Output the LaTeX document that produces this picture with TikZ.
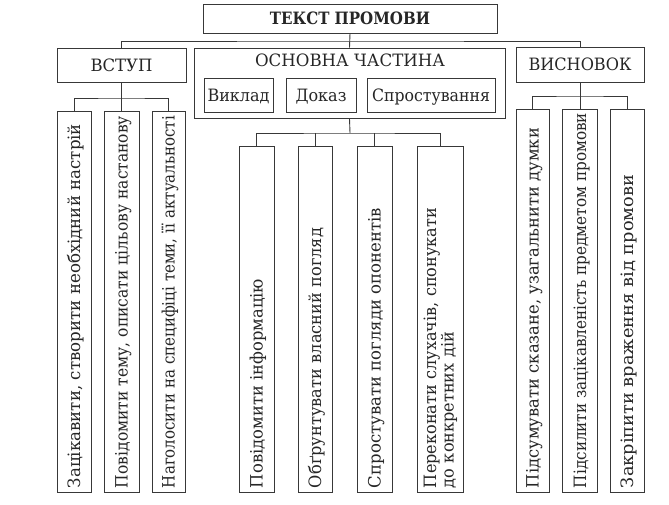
\documentclass[tikz,border=0pt]{standalone}
\usepackage{fontspec}
\setmainfont{DejaVu Serif}
\usepackage{graphicx}
\newcommand{\fitw}[2]{\resizebox{#1pt}{\height}{#2}}
\newcommand{\fsz}{\fontsize{17}{20}\selectfont}
\tikzset{
  conn/.style={draw=black!78, line width=0.9pt},
  hbox/.style={conn, inner sep=0pt, font=\fsz, text=black!85, text height=12.4pt, text depth=0pt},
  vbox/.style={conn, rotate=90, inner xsep=4pt, inner ysep=0pt, align=left, font=\fsz, text=black!85, text height=12.4pt, text depth=0pt},
}
\begin{document}
\begin{tikzpicture}[x=1pt,y=-1pt]
\fill[white] (0,0) rectangle (669,504);
\useasboundingbox (0,0) rectangle (669,504);

% top level
\node[hbox, minimum width=294pt, minimum height=29pt] (title) at (350,18.5) {\fitw{160}{\bfseries ТЕКСТ ПРОМОВИ}};
\node[hbox, minimum width=129pt, minimum height=34pt] (vstup) at (121.5,65) {\fitw{62}{ВСТУП}};
\node[hbox, minimum width=311pt, minimum height=70pt] (osn) at (349.5,83) {};
\node[hbox, draw=none] (osntxt) at (350,60) {\fitw{190}{ОСНОВНА ЧАСТИНА}};
\node[hbox, minimum width=69pt, minimum height=34pt] (vykl) at (238.5,95) {\fitw{62}{Виклад}};
\node[hbox, minimum width=70pt, minimum height=34pt] (dok) at (321,95) {\fitw{51}{Доказ}};
\node[hbox, minimum width=128pt, minimum height=34pt] (spr) at (431,95) {\fitw{118}{Спростування}};
\node[hbox, minimum width=128pt, minimum height=35pt] (vysn) at (580,64.5) {\fitw{103}{ВИСНОВОК}};

% ВСТУП children
\node[vbox, minimum width=381pt, text width=373pt, minimum height=34pt] (a1) at (74,301.5) {\fitw{364}{Зацікавити, створити необхідний настрій}};
\node[vbox, minimum width=381pt, text width=373pt, minimum height=35pt] (a2) at (121.5,301.5) {\fitw{372}{Повідомити тему, описати цільову настанову}};
\node[vbox, minimum width=381pt, text width=373pt, minimum height=33pt] (a3) at (168.5,301.5) {\fitw{372}{Наголосити на специфіці теми, її актуальності}};

% ОСНОВНА ЧАСТИНА children
\node[vbox, minimum width=346pt, text width=338pt, minimum height=35pt] (b1) at (256.5,319) {\fitw{209}{Повідомити інформацію}};
\node[vbox, minimum width=346pt, text width=338pt, minimum height=34pt] (b2) at (315,319) {\fitw{260}{Обґрунтувати власний погляд}};
\node[vbox, minimum width=346pt, text width=338pt, minimum height=35pt] (b3) at (374.5,319) {\fitw{280}{Спростувати погляди опонентів}};
\node[vbox, minimum width=346pt, text width=338pt, minimum height=46pt, text height=27.4pt] (b4) at (440,319) {\fitw{280}{\vbox{\baselineskip=15pt\hbox{Переконати слухачів, спонукати}\hbox{до конкретних дій}}}};

% ВИСНОВОК children
\node[vbox, minimum width=383pt, text width=375pt, minimum height=33pt] (c1) at (532.5,300.5) {\fitw{360}{Підсумувати сказане, узагальнити думки}};
\node[vbox, minimum width=383pt, text width=375pt, minimum height=35pt] (c2) at (580,300.5) {\fitw{375}{Підсилити зацікавленість предметом промови}};
\node[vbox, minimum width=383pt, text width=375pt, minimum height=34pt] (c3) at (627,300.5) {\fitw{313}{Закріпити враження від промови}};

% connectors
\coordinate (tb) at (350,41);
\draw[conn] (title.south) -- (osn.north);
\draw[conn] (vstup.north) |- (tb) -| (vysn.north);

\coordinate (ab) at (121.5,98);
\draw[conn] (vstup.south) -- (a2.east);
\draw[conn] (a1.east) |- (ab) -| (a3.east);

\coordinate (bb) at (350,133);
\draw[conn] (osn.south) -- (bb);
\draw[conn] (b1.east) |- (bb) -| (b4.east);
\draw[conn] (b2.east) -- (b2.east |- bb);
\draw[conn] (b3.east) -- (b3.east |- bb);

\coordinate (cb) at (580,96);
\draw[conn] (vysn.south) -- (c2.east);
\draw[conn] (c1.east) |- (cb) -| (c3.east);
\end{tikzpicture}
\end{document}
